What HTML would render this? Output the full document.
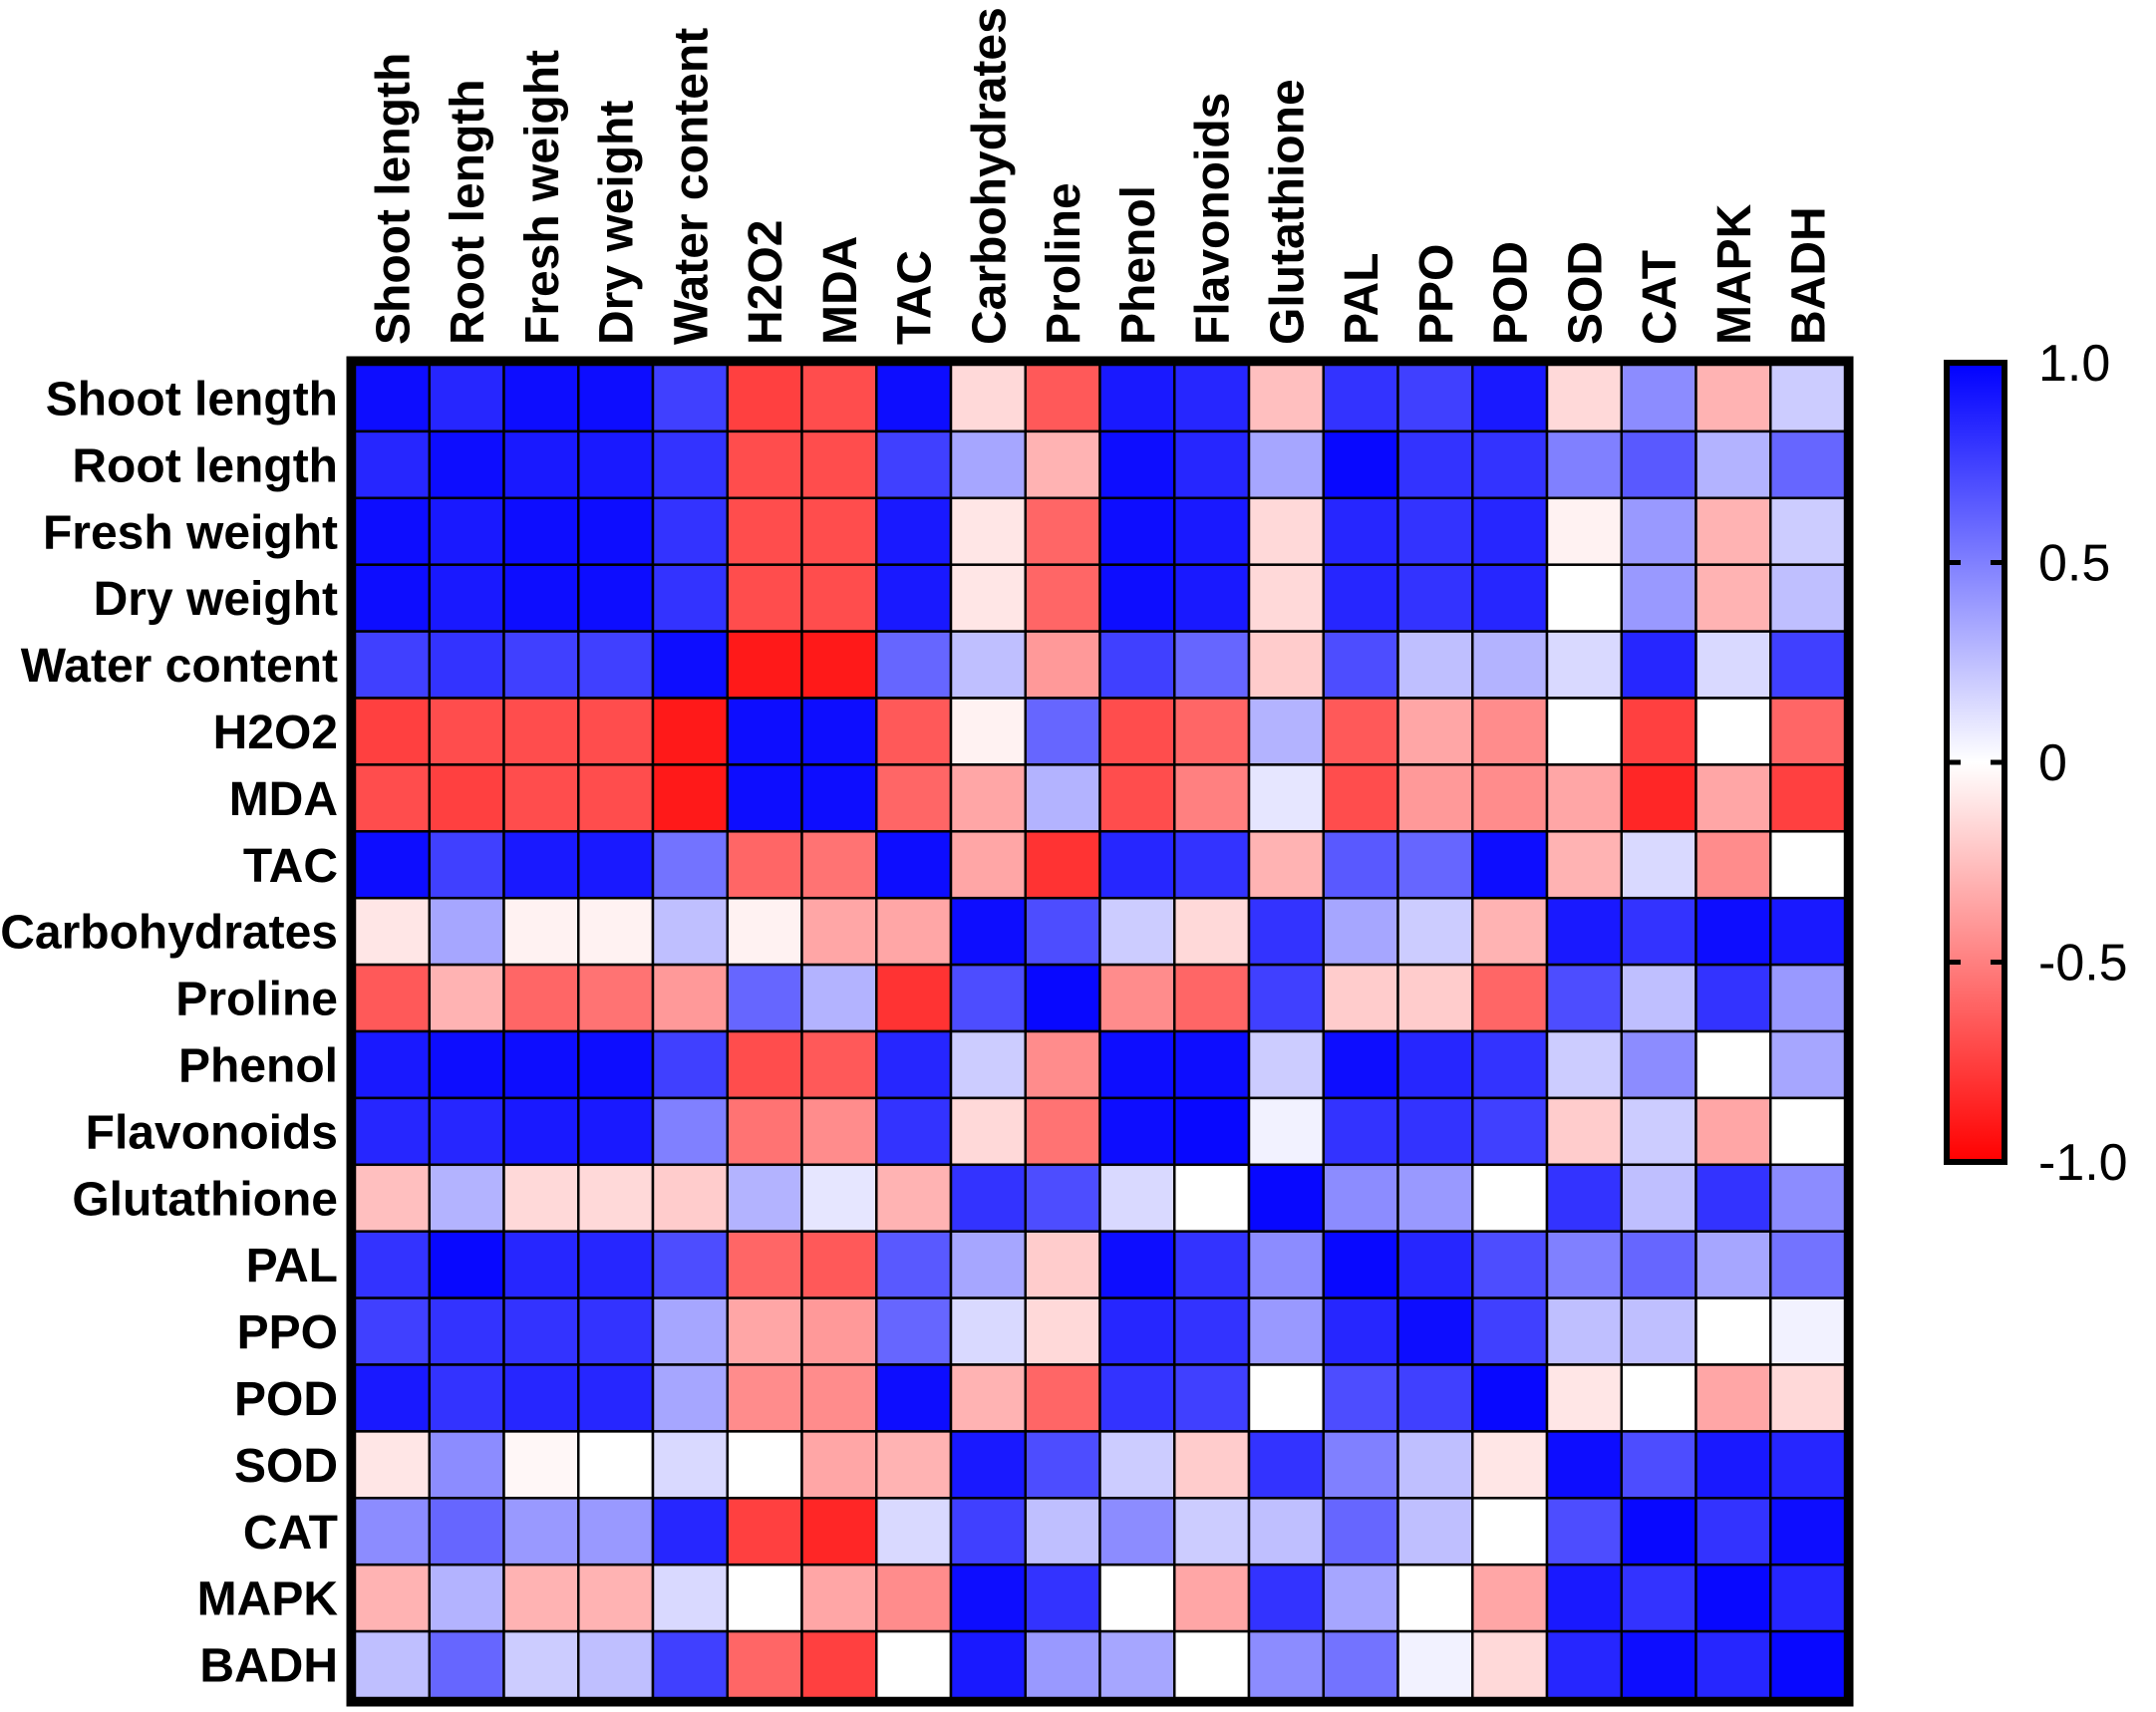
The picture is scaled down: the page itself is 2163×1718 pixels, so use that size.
<!DOCTYPE html>
<html><head><meta charset="utf-8"><style>
html,body{margin:0;padding:0;background:#fff;}
svg{display:block;font-family:"Liberation Sans",Arial,sans-serif;}
</style></head><body>
<svg id="chart" width="2163" height="1718" viewBox="0 0 2163 1718" xmlns="http://www.w3.org/2000/svg">
<defs><linearGradient id="cbg" x1="0" y1="0" x2="0" y2="1">
<stop offset="0" stop-color="#0000ff"/><stop offset="0.5" stop-color="#ffffff"/><stop offset="1" stop-color="#ff0000"/>
</linearGradient></defs>
<g id="cells"></g>
<g id="rowlabels"></g>
<g id="collabels"></g>
<g id="cbar"></g>
</svg>
<script>
const labels = ["Shoot length","Root length","Fresh weight","Dry weight","Water content","H2O2","MDA","TAC","Carbohydrates","Proline","Phenol","Flavonoids","Glutathione","PAL","PPO","POD","SOD","CAT","MAPK","BADH"];
const values = [
[0.95,0.85,0.95,0.95,0.75,-0.75,-0.7,0.95,-0.15,-0.65,0.9,0.85,-0.25,0.8,0.75,0.9,-0.15,0.45,-0.3,0.2],
[0.85,0.95,0.9,0.9,0.8,-0.7,-0.7,0.75,0.35,-0.3,0.95,0.85,0.35,0.97,0.8,0.8,0.5,0.65,0.3,0.6],
[0.95,0.9,0.95,0.95,0.8,-0.7,-0.7,0.9,-0.1,-0.6,0.95,0.9,-0.15,0.85,0.8,0.85,-0.05,0.4,-0.3,0.2],
[0.95,0.9,0.95,0.95,0.8,-0.7,-0.7,0.9,-0.1,-0.6,0.95,0.9,-0.15,0.85,0.8,0.85,0,0.4,-0.3,0.25],
[0.75,0.8,0.75,0.75,0.95,-0.9,-0.9,0.6,0.25,-0.4,0.75,0.6,-0.2,0.7,0.25,0.3,0.15,0.85,0.15,0.75],
[-0.75,-0.7,-0.7,-0.7,-0.9,0.95,0.95,-0.65,-0.05,0.6,-0.7,-0.6,0.3,-0.65,-0.35,-0.45,0,-0.75,0,-0.6],
[-0.7,-0.75,-0.7,-0.7,-0.9,0.95,0.95,-0.6,-0.35,0.3,-0.7,-0.5,0.1,-0.7,-0.4,-0.45,-0.35,-0.85,-0.35,-0.75],
[0.95,0.75,0.9,0.9,0.55,-0.6,-0.55,0.95,-0.35,-0.8,0.85,0.8,-0.3,0.65,0.6,0.95,-0.3,0.15,-0.45,0],
[-0.1,0.35,-0.05,-0.05,0.25,-0.05,-0.35,-0.35,0.95,0.7,0.2,-0.15,0.8,0.35,0.2,-0.3,0.9,0.8,0.95,0.9],
[-0.65,-0.3,-0.6,-0.55,-0.4,0.6,0.3,-0.8,0.7,0.97,-0.45,-0.6,0.75,-0.2,-0.2,-0.6,0.7,0.25,0.8,0.4],
[0.9,0.95,0.95,0.95,0.75,-0.7,-0.65,0.85,0.2,-0.45,0.95,0.95,0.2,0.95,0.85,0.8,0.2,0.45,0,0.35],
[0.85,0.85,0.9,0.9,0.5,-0.55,-0.45,0.8,-0.15,-0.55,0.95,0.97,0.05,0.8,0.8,0.75,-0.2,0.2,-0.35,0],
[-0.25,0.3,-0.15,-0.15,-0.2,0.3,0.1,-0.3,0.8,0.7,0.15,0,0.97,0.45,0.4,0,0.8,0.25,0.8,0.45],
[0.8,0.97,0.85,0.85,0.7,-0.6,-0.65,0.65,0.35,-0.2,0.95,0.8,0.45,0.97,0.85,0.7,0.5,0.6,0.35,0.55],
[0.75,0.8,0.8,0.8,0.35,-0.35,-0.4,0.6,0.15,-0.15,0.85,0.8,0.4,0.85,0.95,0.75,0.25,0.25,0,0.05],
[0.9,0.8,0.85,0.85,0.35,-0.45,-0.45,0.95,-0.3,-0.6,0.8,0.75,0,0.7,0.75,0.97,-0.1,0,-0.35,-0.15],
[-0.1,0.45,-0.03,0,0.15,0,-0.35,-0.3,0.9,0.7,0.2,-0.2,0.8,0.5,0.25,-0.1,0.95,0.7,0.9,0.85],
[0.45,0.6,0.4,0.4,0.85,-0.75,-0.85,0.15,0.75,0.25,0.45,0.2,0.25,0.6,0.25,0,0.7,0.97,0.8,0.95],
[-0.3,0.3,-0.3,-0.3,0.15,0,-0.35,-0.45,0.95,0.8,0,-0.35,0.8,0.35,0,-0.35,0.9,0.8,0.97,0.85],
[0.25,0.6,0.2,0.25,0.75,-0.6,-0.75,0,0.9,0.4,0.35,0,0.45,0.55,0.05,-0.15,0.85,0.95,0.85,0.97]
];
const cbTicks = [1.0,0.5,0,-0.5,-1.0];
const cbTickLabels = ["1.0","0.5","0","-0.5","-1.0"];

const NS="http://www.w3.org/2000/svg";
const GX0=356, GX1=1851, GY0=366, GY1=1704;
const n=labels.length, cw=(GX1-GX0)/n, ch=(GY1-GY0)/n;
const xPos=i=>GX0+i*cw, yPos=j=>GY0+j*ch;
function color(v){v=Math.max(-1,Math.min(1,v));let r,g,b;
 if(v>=0){r=g=Math.round(255*(1-v));b=255;}else{r=255;g=b=Math.round(255*(1+v));}
 return `rgb(${r},${g},${b})`;}
function mk(tag,attrs,parent){const e=document.createElementNS(NS,tag);for(const k in attrs)e.setAttribute(k,attrs[k]);parent.appendChild(e);return e;}
const cells=document.getElementById('cells');
values.forEach((row,j)=>row.forEach((v,i)=>{
 const r=mk('rect',{x:xPos(i),y:yPos(j),width:cw,height:ch,fill:color(v),stroke:'#000','stroke-width':2.5},cells);
 
 
}));
const border=mk('rect',{x:GX0-4,y:GY0-4,width:GX1-GX0+8,height:GY1-GY0+8,fill:'none',stroke:'#000','stroke-width':9},cells);


const rl=document.getElementById('rowlabels');
labels.forEach((l,j)=>{
 const t=mk('text',{x:339,y:yPos(j)+ch/2+17,'text-anchor':'end','font-size':48,'font-weight':'bold',fill:'#000'},rl);
 t.textContent=l;
 
 
});
const cl=document.getElementById('collabels');
labels.forEach((l,i)=>{
 const cx=xPos(i)+cw/2+17;
 const t=mk('text',{x:0,y:0,transform:`translate(${cx},346) rotate(-90)`,'font-size':48,fill:'#000','font-weight':'bold'},cl);
 t.textContent=l;
 
 
});
const cb=document.getElementById('cbar');
const CB0=364, CB1=1166, CX0=1953, CX1=2011;
const cbY=v=>CB0+(1-v)/2*(CB1-CB0);
const bar=mk('rect',{x:CX0,y:CB0,width:CX1-CX0,height:CB1-CB0,fill:'url(#cbg)',stroke:'#000','stroke-width':6},cb);


cbTicks.forEach((v,k)=>{
 const y=cbY(v);
 if(v<1&&v>-1){
  mk('line',{x1:CX0,x2:CX0+14,y1:y,y2:y,stroke:'#000','stroke-width':5},cb);
  mk('line',{x1:CX1-14,x2:CX1,y1:y,y2:y,stroke:'#000','stroke-width':5},cb);
 }
 const t=mk('text',{x:2045,y:y+18,'font-size':52,fill:'#000'},cb);
 t.textContent=cbTickLabels[k];
 
 
});
</script>
</body></html>
